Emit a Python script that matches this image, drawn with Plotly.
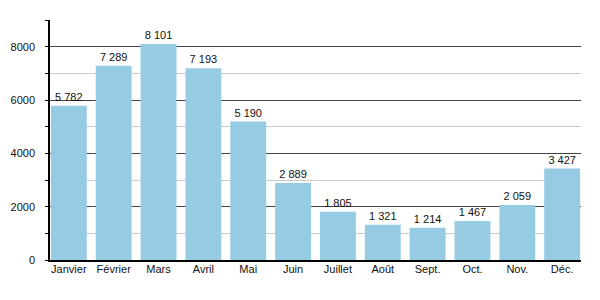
import plotly.graph_objects as go

months = ["Janvier", "Février", "Mars", "Avril", "Mai", "Juin", "Juillet", "Août", "Sept.", "Oct.", "Nov.", "Déc."]
values = [5782, 7289, 8101, 7193, 5190, 2889, 1805, 1321, 1214, 1467, 2059, 3427]
ytick_vals = [0, 2000, 4000, 6000, 8000]

fig = go.Figure(go.Bar(
    x=months, y=values,
    marker=dict(color="#96cbe4", line=dict(width=0)),
    text=values, texttemplate="%{y:,}", textposition="outside",
    textfont=dict(family="Liberation Sans, Arial, sans-serif", size=11, color="#111"),
    cliponaxis=False,
))

fig.update_layout(
    width=600, height=300,
    margin=dict(l=50, r=19, t=20, b=40),
    plot_bgcolor="white", paper_bgcolor="white",
    separators=", ",
    bargap=0.2,
    showlegend=False,
    font=dict(family="Liberation Sans, Arial, sans-serif", size=11, color="#111"),
)
fig.update_xaxes(
    range=[-0.42, 11.42],
    showline=True, linecolor="black", linewidth=1.5,
    ticks="", showgrid=False, tickfont=dict(size=11),
    ticklabelstandoff=-2,
)
fig.update_yaxes(
    range=[0, 9000], tickvals=ytick_vals,
    showline=True, linecolor="black", linewidth=1.5,
    ticks="outside", ticklen=3, tickcolor="black",
    ticklabelstandoff=8,
    showgrid=True, gridcolor="#444", gridwidth=1,
    zeroline=False,
    minor=dict(dtick=1000, tick0=0, showgrid=True, gridcolor="#cccccc", ticks="outside", ticklen=3, tickcolor="black"),
)

fig.write_html("out.html")
